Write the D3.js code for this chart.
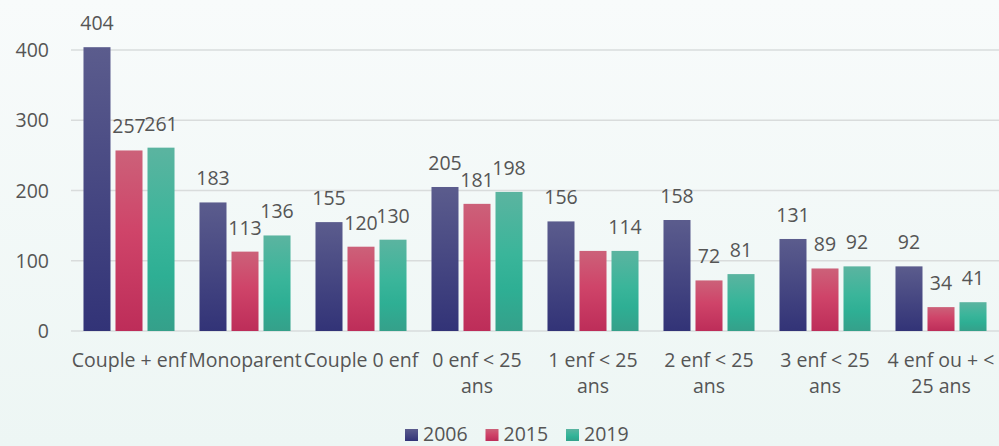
<!DOCTYPE html>
<html>
<head>
<meta charset="utf-8">
<script src="https://cdn.jsdelivr.net/npm/d3@7"></script>
<style>
  html, body { margin: 0; padding: 0; }
  body { width: 999px; height: 446px; overflow: hidden; }
  svg text { font-family: "Open Sans", "Noto Sans", sans-serif; fill: #555555; }
</style>
</head>
<body>
<svg id="chart" width="999" height="446"></svg>
<script>
// Household types (axis labels split over lines)
const categories = [
  ["Couple + enf"],
  ["Monoparent"],
  ["Couple 0 enf"],
  ["0 enf < 25", "ans"],
  ["1 enf < 25", "ans"],
  ["2 enf < 25", "ans"],
  ["3 enf < 25", "ans"],
  ["4 enf ou + <", "25 ans"]
];
const series = ["2006", "2015", "2019"];
const values2006 = [404, 183, 155, 205, 156, 158, 131, 92];
const values2015 = [257, 113, 120, 181, 114, 72, 89, 34];
const values2019 = [261, 136, 130, 198, 114, 81, 92, 41];
// Which value labels are printed (one is hidden in the original chart)
const labels2015Shown = [true, true, true, true, false, true, true, true];
const yTicks = [0, 100, 200, 300, 400];

const seriesValues = { "2006": values2006, "2015": values2015, "2019": values2019 };
const seriesShown = { "2015": labels2015Shown };

const W = 999, H = 446;
const margin = { left: 71, right: 0 };
const FS = 19.5;
const svg = d3.select("#chart");
const defs = svg.append("defs");

// Soft vertical background wash
const bg = defs.append("linearGradient").attr("id", "bg").attr("x1", 0).attr("y1", 0).attr("x2", 0).attr("y2", 1);
bg.append("stop").attr("offset", "0%").attr("stop-color", "#f8fbfb");
bg.append("stop").attr("offset", "100%").attr("stop-color", "#edf6f4");
svg.append("rect").attr("width", W).attr("height", H).attr("fill", "url(#bg)");

// Bar fills, lighter at the top
const gradStops = {
  "2006": [["0%", "#5b5c8d"], ["100%", "#323377"]],
  "2015": [["0%", "#cc6179"], ["45%", "#cf4469"], ["100%", "#bd2d59"]],
  "2019": [["0%", "#5bb4a0"], ["45%", "#3ab59a"], ["70%", "#2eaf94"], ["100%", "#35a08a"]]
};
series.forEach(s => {
  const g = defs.append("linearGradient").attr("id", "g" + s)
    .attr("x1", 0).attr("y1", 0).attr("x2", 0).attr("y2", 1);
  gradStops[s].forEach(([o, c]) => g.append("stop").attr("offset", o).attr("stop-color", c));
});

const x0 = d3.scaleBand()
  .domain(d3.range(categories.length))
  .range([margin.left, W - margin.right])
  .paddingInner(0).paddingOuter(0);
const x1 = d3.scaleBand()
  .domain(series)
  .range([0, x0.bandwidth()])
  .paddingInner(0.156).paddingOuter(0.39);
const y = d3.scaleLinear().domain([0, 400]).range([331, 50]);

// Gridlines
svg.append("g").selectAll("line").data(yTicks).join("line")
  .attr("x1", margin.left).attr("x2", W)
  .attr("y1", d => y(d)).attr("y2", d => y(d))
  .attr("stroke", "#d9dcdc").attr("stroke-width", 1.5);

// Y tick labels
svg.append("g").selectAll("text").data(yTicks).join("text")
  .attr("x", 49).attr("y", d => y(d)).attr("dy", "0.36em")
  .attr("text-anchor", "end").attr("font-size", FS)
  .text(d => d);

// Bars and value labels
const groups = svg.append("g").selectAll("g").data(categories).join("g")
  .attr("transform", (d, i) => `translate(${x0(i)},0)`);

groups.each(function (cat, i) {
  const g = d3.select(this);
  series.forEach(s => {
    const v = seriesValues[s][i];
    g.append("rect")
      .attr("x", x1(s)).attr("width", x1.bandwidth())
      .attr("y", y(v)).attr("height", y(0) - y(v))
      .attr("fill", `url(#g${s})`);
    const shown = seriesShown[s] ? seriesShown[s][i] : true;
    if (shown) {
      g.append("text")
        .attr("x", x1(s) + x1.bandwidth() / 2)
        .attr("y", y(v) - 17)
        .attr("text-anchor", "middle").attr("font-size", FS)
        .text(v);
    }
  });
  // Category label
  const t = g.append("text")
    .attr("x", x0.bandwidth() / 2).attr("y", 367)
    .attr("text-anchor", "middle").attr("font-size", FS);
  cat.forEach((line, k) => {
    t.append("tspan").attr("x", x0.bandwidth() / 2).attr("y", 367 + k * 26).text(line);
  });
});

// Legend
const legend = svg.append("g").attr("transform", "translate(405,0)");
series.forEach((s, k) => {
  const lg = legend.append("g").attr("transform", `translate(${k * 80.5},0)`);
  lg.append("rect").attr("x", 0).attr("y", 429).attr("width", 13).attr("height", 12)
    .attr("fill", `url(#g${s})`);
  lg.append("text").attr("x", 18).attr("y", 441).attr("font-size", FS).text(s);
});
</script>
</body>
</html>
